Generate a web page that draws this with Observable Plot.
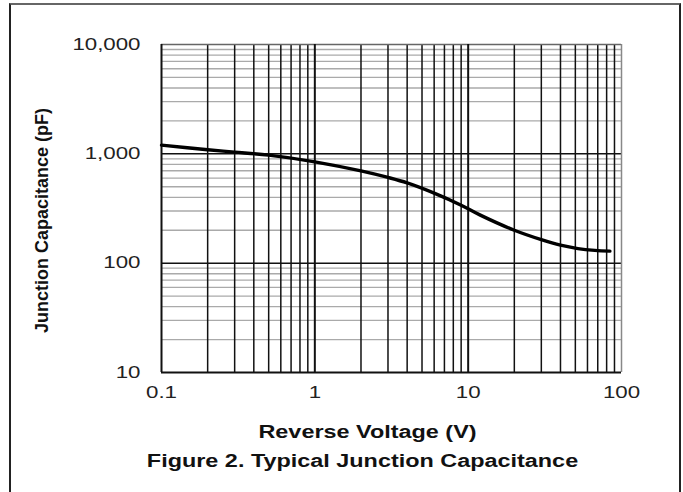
<!DOCTYPE html>
<html>
<head>
<meta charset="utf-8">
<script src="https://cdn.jsdelivr.net/npm/d3@7"></script>
<script src="https://cdn.jsdelivr.net/npm/@observablehq/plot@0.6"></script>
<style>
  html, body { margin: 0; padding: 0; background: #fff; }
  #wrap { position: relative; width: 683px; height: 492px; overflow: hidden; }
  #border { position: absolute; left: 9px; top: 3px; width: 668px; height: 500px;
            border-left: 2px solid #222; border-right: 2px solid #222; border-top: 2px solid #666; }
  #chart { position: absolute; left: 0; top: 0; }
</style>
</head>
<body>
<div id="wrap"><div id="chart"></div><div id="border"></div></div>
<script>
// Reverse voltage (V) and junction capacitance (pF)
const voltage = [0.1, 0.2, 0.3, 0.5, 1, 2, 3, 4, 6, 9, 12, 20, 30, 40, 52, 67, 84];
const capacitance = [1202, 1089, 1037, 973, 845, 698, 608, 542, 437, 339, 275, 200, 164, 146, 136, 131, 129];
const xTicks = [0.1, 1, 10, 100];
const xTickLabels = ["0.1", "1", "10", "100"];
const yTicks = [10, 100, 1000, 10000];
const yTickLabels = ["10", "100", "1,000", "10,000"];
const xLabel = "Reverse Voltage (V)";
const yLabel = "Junction Capacitance (pF)";
const caption = "Figure 2. Typical Junction Capacitance";

const data = voltage.map((v, i) => ({v, c: capacitance[i]}));

// minor grid values per decade
const xMinor = [];
for (let e = -1; e < 2; e++) for (let k = 2; k <= 9; k++) xMinor.push(k * Math.pow(10, e));
const yMinor = [];
for (let e = 1; e < 4; e++) for (let k = 2; k <= 9; k++) yMinor.push(k * Math.pow(10, e));

const font = "Arial, 'Liberation Sans', sans-serif";

const chart = Plot.plot({
  width: 683,
  height: 492,
  marginLeft: 161,
  marginRight: 62,
  marginTop: 44,
  marginBottom: 120,
  style: {fontFamily: font, background: "white"},
  x: {type: "log", domain: [0.1, 100], axis: null},
  y: {type: "log", domain: [10, 10000], axis: null},
  marks: [
    Plot.ruleY(yMinor, {stroke: "#aaa", strokeWidth: 1.3}),
    Plot.ruleX(xMinor, {stroke: "#111", strokeWidth: 1.5}),
    Plot.ruleY([100, 1000], {stroke: "#111", strokeWidth: 1.5}),
    Plot.ruleY([10000], {stroke: "#666", strokeWidth: 1.5}),
    Plot.ruleX([100], {stroke: "#888", strokeWidth: 1.5}),
    Plot.ruleY([10], {stroke: "#111", strokeWidth: 2}),
    Plot.ruleX([0.1, 1, 10], {stroke: "#111", strokeWidth: 2}),
    Plot.line(data, {x: "v", y: "c", stroke: "#000", strokeWidth: 3.4, curve: "catmull-rom"}),
    Plot.text(xTicks, {x: d => d, text: (d, i) => xTickLabels[i], frameAnchor: "bottom", dy: 25,
      fontSize: 16.5, fill: "#222"}),
    Plot.text(yTicks, {y: d => d, text: (d, i) => yTickLabels[i], frameAnchor: "left", textAnchor: "end", dx: -21,
      fontSize: 16.5, fill: "#222"}),
    Plot.text([xLabel], {frameAnchor: "bottom", dy: 65, dx: -24, fontSize: 18, fontWeight: "bold", fill: "#111"}),
    Plot.text([caption], {frameAnchor: "bottom", dy: 94, dx: -29, fontSize: 18, fontWeight: "bold", fill: "#111"}),
    Plot.text([yLabel], {frameAnchor: "left", textAnchor: "middle", dx: -119, dy: 12, rotate: -90, fontSize: 18, fontWeight: "bold", fill: "#111"})
  ]
});
document.getElementById("chart").appendChild(chart);
// the reference lettering is horizontally stretched
const tickSet = new Set([...xTickLabels, ...yTickLabels]);
d3.select(chart).selectAll("text").each(function() {
  const t = this.textContent;
  let s = 0;
  if (tickSet.has(t)) s = 1.35;
  else if (t === xLabel || t === caption) s = 1.3;
  if (!s) return;
  const w = this.getComputedTextLength();
  this.setAttribute("textLength", (w * s).toFixed(1));
  this.setAttribute("lengthAdjust", "spacingAndGlyphs");
});
</script>
</body>
</html>
